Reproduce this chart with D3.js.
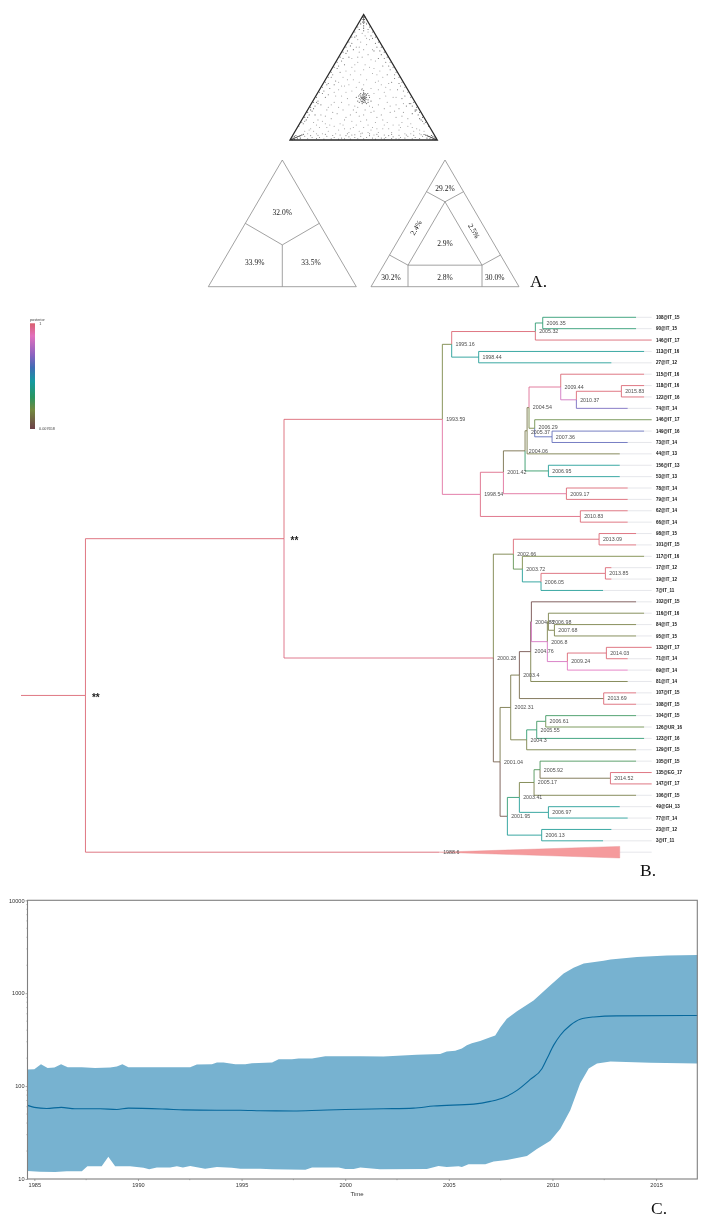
<!DOCTYPE html>
<html>
<head>
<meta charset="utf-8">
<title>Likelihood mapping, MCC tree and skyline</title>
<script src="https://cdn.jsdelivr.net/npm/d3@7"></script>
<style>
  body { margin: 0; background: #fff; }
  svg { display: block; filter: blur(0.35px); }
  text { font-family: "Liberation Sans", Arial, sans-serif; }
  .serif { font-family: "Liberation Serif", "Times New Roman", serif; }
</style>
</head>
<body>
<svg id="chart" width="709" height="1223" viewBox="0 0 709 1223"></svg>
<script>
// A. likelihood map, u = along the base, v = up from the base (both 0-100)
const mapCentre = [[48,32],[49,33],[50,34],[51,33],[50,32],[49,35],[51,35],[52,34],[48,35],[50,36],[47,33],[53,32],[49,31],[51,31],[50,30],[52,36],[48,37],[50,38],[51,37],[46,31],[54,34],[47,30],[53,30],[49.5,33.5],[50.5,34.5],[50.2,32.6],[49,34],[51,34],[50,35],[48.6,33.4],[51.6,32.4],[49,29],[52,29],[45,34],[55,31],
  [49.6,32.2],[50.4,33.2],[49.2,36],[50.8,36.4],[48.2,33.8],[51.8,35.6],[50,37],[49.4,30.4],[51,29.8],[47.4,36],[52.8,37],[46.6,35],[53.6,35.4],[50.6,31.4],[48.4,30.6],[50,39.5],[48.8,40]];
const mapInner = [[50,90],[49,85],[51,83],[48,78],[52,76],[50,72],[47,70],[53,68],[49,66],[46,62],[51,60],[54,58],[50,56],[48,52],[44,55],[56,53],[52,48],[47,46],[43,48],[58,46],[50,44],[45,42],[55,41],[40,44],[60,40],[49,41],
  [60,28],[64,25],[68,22],[72,18],[76,14],[80,11],[84,7],[88,5],[62,20],[70,12],[74,8],[66,14],[58,14],[63,9],[69,6],[78,5],[55,22],[59,18],[82,13],[86,9],
  [40,28],[36,24],[32,21],[28,17],[24,13],[20,10],[16,7],[12,5],[38,18],[30,11],[26,7],[34,13],[42,15],[37,9],[31,5],[22,5],[45,22],[41,20],[18,12],[14,9],[43,10],[47,7],[53,6],[57,4],
  [44,27],[35,35],[30,30],[38,38],[65,35],[72,28],[62,44],[56,26],[50,20],[48,15],[53,12],[51,24],[33,40],[68,40],
  [46,80],[53,86],[48,92],[52,92],[47,88],[54,80],[45,74],[56,72],[42,65],[58,63],[44,60],[61,55],[38,55],[63,50],[36,50],[41,52],[59,52],[33,46],[67,45],[37,43],[64,38],[42,39],[57,37],[39,33],[61,33],[35,30],[66,30],[31,35],[70,34],[28,28],[74,25],[25,24],[77,22],[33,26],[68,27],[37,16],[63,16],[22,15],[80,17],[19,16],[83,10],[27,12],[74,12],[13,8],[88,8],[10,7],[91,7],[33,8],[67,9],[40,6],[60,6],[45,12],[56,10],[50,10],[52,16],[47,19],[43,24],[57,23],[46,26],[54,27],[16,14],[21,20],[77,29],[26,26],[72,34],[30,38],[35,43],[65,42],[39,48],[60,47],[42,58],[57,57],[46,66],[55,64],[47,74],[52,81],[29,22],[71,23],[24,19],[76,19],[36,12],[64,12],[41,9],[59,9],[48,5],[55,8],[25,10],[75,10],[18,5],[82,5],[8,4],[93,4]];
const mapBase = [[10,3],[15,2],[20,2],[25,3],[30,2],[35,1.5],[40,2.5],[44,2],[48,3],[52,2],[56,1.5],[60,3],[65,2],[70,2.5],[75,2],[80,3],[85,2],[90,3],[38,3.5],[42,4],[46,1],[54,3.5],[62,1.5],[67,3.5],[72,1],[78,1.5],[12,1],[18,1.2],[23,.8],[28,1],[33,.7],[37,1],[41,.8],[50,1],[58,.7],[64,.9],[69,1.1],[74,.7],[83,1],[88,1.2],
  [14,3.5],[19,3.8],[24,4.5],[29,3.6],[34,4],[39,5],[44,4.2],[49,5.5],[54,5],[59,4.5],[64,4],[69,4.5],[74,3.8],[79,4],[84,3.8],[89,4.2]];
const mapLeft = [[12,18],[16,25],[19,31],[22,37],[25,44],[28,50],[32,57],[35,63],[38,69],[41,75],[44,82],[17,20],[21,28],[24,34],[27,41],[31,47],[34,54],[37,60],[40,66],[43,72],[18,30],[26,36],[30,44],
  [6,11],[8,14],[10,18],[12,22],[14,26],[16,30],[18,34],[20,38],[22,42],[24,46],[26,50],[28,54],[30,58],[32,62],[34,66],[36,70],[38,74],[40,78],[42,82],[44,86],[46,90],
  [9,13],[11,16],[13,20],[15,23],[17,27],[19,29],[23,39],[26,45],[29,52],[33,59],[36,65],[39,71],[42,77],[45,83],[47,88],[48,93],[10,15],[14,24]];
const mapRight = [[88,17],[85,24],[82,29],[78,35],[75,43],[71,49],[68,56],[65,62],[62,68],[59,74],[56,81],[83,21],[79,27],[76,33],[73,40],[69,46],[66,52],[63,59],[60,65],[57,71],
  [94,11],[92,14],[90,18],[88,22],[86,26],[84,30],[82,34],[80,38],[78,42],[76,46],[74,50],[72,54],[70,58],[68,62],[66,66],[64,70],[62,74],[60,78],[58,82],[56,86],[54,90],
  [91,13],[89,16],[87,20],[85,23],[83,27],[81,29],[77,39],[74,45],[71,52],[67,59],[64,65],[61,71],[58,77],[55,83],[53,88],[52,93],[90,15],[86,24]];
const mapCorners = [[1,.6],[2,1],[3,1.5],[4,2],[5,2.5],[6,3],[7,3.5],[8,4],[9,4.5],[1.5,.2],[3,.5],[5,1],[7,1.5],[1,1.6],[2,2.4],[3,3],[4,3.6],[1.5,.8],[2.5,1.2],[3.5,1.8],[4.5,2.2],[5.5,2.8],[6.5,3.2],
  [50,99],[50,97],[50,95],[50,93],[50,91],[49.5,96],[50.5,96],[49.3,94],[50.7,94],[49,98],[51,98],[50,98],[50,96],[50,94],[49.6,98],[50.4,98],[50,89],[50,87],
  [99,.6],[98,1],[97,1.6],[96,2],[95,2.6],[94,3],[93,3.6],[92,4],[91,4.4],[98.5,.2],[97,.5],[95,1],[93,1.5],[99,1.6],[98,2.4],[97,3],[96,3.6],[98.5,.8],[97.5,1.2],[96.5,1.8],[95.5,2.2],[94.5,2.8],[93.5,3.2]];

// A. partitions of the map, same units
const threeSegments = [[[50,33],[25,50]], [[50,33],[75,50]], [[50,33],[50,0]]];
const threeLabels = [["32.0%",50,59,0], ["33.9%",31.4,19.5,0], ["33.5%",69.4,19.5,0]];
const sevenSegments = [[[50,67],[25,17]], [[25,17],[75,17]], [[75,17],[50,67]], [[50,67],[37.5,75]], [[50,67],[62.5,75]], [[25,17],[12.5,25]], [[75,17],[87.5,25]], [[25,17],[25,0]], [[75,17],[75,0]]];
const sevenLabels = [["29.2%",50,77.7,0], ["2.4%",30.4,46.6,-60], ["2.5%",69.6,44,60], ["2.9%",50,34.3,0], ["2.8%",50,7.4,0], ["30.2%",13.5,7.4,0], ["30.0%",83.6,7.4,0]];

// B. internal nodes: id, parent, time on the drawn axis, posterior, label
const treeNodes = [
  ["stem",null,1941.6,1,""], ["root","stem",1949.55,1,""], ["top","root",1974.04,1,""],
  ["a1","top",1993.57,1,"1993.59"], ["a2","a1",1994.72,.16,"1995.16"], ["a3","a2",2005.04,1,"2005.32"], ["a4","a3",2005.95,.33,"2006.35"], ["a5","a2",1998.05,.42,"1998.44"],
  ["b1","a1",1998.26,.93,"1998.54"], ["b2","b1",2001.10,.97,"2001.42"], ["b3","b2",2003.77,.1,"2004.06"], ["b4","b3",2004.02,.12,"2005.37"], ["b5","b4",2004.26,.12,"2004.54"],
  ["b6","b5",2008.17,.95,"2009.44"], ["b7","b6",2010.10,.84,"2010.37"], ["b8","b7",2015.65,1,"2015.83"], ["b9","b5",2004.96,.17,"2006.29"], ["b10","b9",2007.10,.62,"2007.36"],
  ["b11","b3",2006.65,.3,"2006.95"], ["b12","b2",2008.87,.94,"2009.17"], ["b13","b1",2010.59,.98,"2010.83"],
  ["c1","top",1999.86,.98,"2000.28"], ["c2","c1",2002.33,.15,"2002.66"], ["c3","c2",2012.90,1,"2013.09"], ["c4","c2",2003.44,.22,"2003.72"], ["c5","c4",2005.74,.42,"2006.05"], ["c6","c5",2013.68,1,"2013.85"],
  ["d1","c1",2000.69,.06,"2001.04"], ["d2","d1",2002.0,.12,"2002.31"], ["d3","d2",2003.07,.12,"2003.4"], ["d4","d3",2004.47,.03,"2004.76"], ["d5","d4",2004.55,.02,"2004.88"],
  ["d6","d5",2006.52,.85,"2006.8"], ["d7","d6",2006.65,.14,"2006.98"], ["d8","d7",2007.39,.14,"2007.68"], ["d9","d6",2008.99,.85,"2009.24"], ["d10","d9",2013.80,1,"2014.03"], ["d11","d3",2013.47,.09,"2013.69"],
  ["e1","d2",2003.97,.14,"2004.3"], ["e2","e1",2005.21,.32,"2005.55"], ["e3","e2",2006.32,.28,"2006.61"],
  ["f1","d1",2001.59,.04,"2001.95"], ["f2","f1",2003.07,.33,"2003.41"], ["f3","f2",2004.88,.15,"2005.17"], ["f4","f3",2005.62,.25,"2005.92"], ["f5","f4",2014.30,.1,"2014.52"], ["f6","f2",2006.65,.42,"2006.97"], ["f7","f1",2005.82,.42,"2006.13"]
];

// B. tips, top to bottom
const tipNames = ["108@IT_15","90@IT_15","146@IT_17","113@IT_16","27@IT_12","115@IT_16","118@IT_16","122@IT_16","74@IT_14","146@IT_17","149@IT_16","73@IT_14","44@IT_13","156@IT_13","53@IT_13","78@IT_14","79@IT_14","62@IT_14","66@IT_14","98@IT_15","101@IT_15","117@IT_16","17@IT_12","19@IT_12","7@IT_11","102@IT_15","116@IT_16","84@IT_15","95@IT_15","133@IT_17","71@IT_14","69@IT_14","81@IT_14","107@IT_15","108@IT_15","104@IT_15","126@UR_16","123@IT_16","129@IT_15","105@IT_15","135@EG_17","147@IT_17","106@IT_15","49@GH_13","77@IT_14","23@IT_12","3@IT_11"];
const tipParents = ["a4","a4","a3","a5","a5","b6","b8","b8","b7","b9","b10","b10","b4","b11","b11","b12","b12","b13","b13","c3","c3","c4","c6","c6","c5","d5","d7","d8","d8","d10","d10","d9","d4","d11","d11","e3","e3","e2","e1","f4","f5","f5","f3","f6","f6","f7","f7"];
const tipPosterior = [.33,.33,1,.42,.42,1,1,1,.66,.2,.63,.63,.13,.42,.42,1,1,1,1,1,1,.17,1,1,.42,.02,.15,.15,.15,1,1,.88,.14,1,1,.28,.2,.33,.15,.26,1,1,.14,.42,.42,.42,.42];
// where a tip of each sampling year ends on the drawn axis
const tipTimes = {11:2013.39, 12:2014.42, 13:2015.45, 14:2016.43, 15:2017.46, 16:2018.45, 17:2019.39};
const collapsedClade = ["clade","root",1993.2,1,"1988.6"];
const collapsedEnd = 2015.45;

const posteriorStops = [0,.18,.3,.45,.58,.7,.88,1];
const posteriorColors = ["#6e4048","#74893f","#2a9560","#159aa0","#3f6cb4","#8b62c0","#e271bd","#d9606e"];

// C. skyline
const upperYears = [1984.67,1985,1985.32,1985.64,1985.97,1986.29,1986.61,1987.29,1987.93,1988.66,1988.98,1989.25,1989.54,1992.52,1992.84,1993.57,1993.81,1994.13,1994.7,1995.18,1995.5,1996.47,1996.79,1997.43,1997.75,1998.4,1999.04,2000.73,2001.84,2003.45,2004.58,2004.9,2005.31,2005.63,2005.87,2006.11,2006.51,2007,2007.24,2007.48,2007.8,2008.29,2009.09,2009.9,2010.54,2011.02,2011.51,2012.47,2012.8,2014.08,2015.53,2017];
const upperValues = [151,152,172,157,159,172,160,160,157,159,163,172,160,160,171,172,180,180,172,172,176,180,195,195,198,198,210,210,208,217,222,236,240,254,276,290,305,336,350,427,530,638,835,1220,1630,1875,2090,2240,2300,2450,2540,2570];
const lowerYears = [1984.67,1985.27,1986,1986.56,1987.29,1987.56,1988.25,1988.57,1988.9,1989.62,1990.27,1990.54,1990.91,1991.55,1991.88,1992.17,1992.52,1993.24,1993.81,1994.53,1994.94,1995.9,1996.47,1998.08,1998.4,1999.69,2000.01,2000.41,2000.73,2001.68,2003.94,2004.5,2004.9,2005.47,2005.63,2005.95,2006.76,2007.16,2007.8,2008.77,2009.25,2009.9,2010.38,2010.86,2011.34,2011.75,2012.15,2012.8,2014.73,2017];
const lowerValues = [12.2,12,11.9,12.1,12.1,13.7,13.7,17.4,13.7,13.7,13.2,12.7,13.3,13.3,13.7,13.3,13.8,12.9,13.5,13.2,12.9,12.9,12.7,12.6,13.3,13.3,12.8,12.8,13.3,12.7,12.8,13.8,13.5,13.7,13.5,14.4,14.4,15.4,16,17.7,21,25.8,34.8,55,107,155,175,184,178,175];
const meanYears = [1984.67,1985,1985.6,1986.3,1986.96,1988.17,1988.98,1989.54,1991.39,1992.2,1993.8,1994.94,1995.9,1997.5,1998.8,2000,2001.84,2003.3,2004.26,2006.2,2007,2007.64,2008.29,2008.93,2009.5,2009.74,2010.06,2010.38,2010.86,2011.34,2012,2013.1,2017];
const meanValues = [62,59,57.5,59,57,57,56,58,56.5,55.5,55,55,54.3,54,55,56,57,58,61,64,68.5,75,90,118,155,198,276,353,452,525,555,570,575];
const yearTicks = [1985,1990,1995,2000,2005,2010,2015];
const yearMinorTicks = [1987.5,1992.5,1997.5,2002.5,2007.5,2012.5];
const popTicks = [10,100,1000,10000];

const svg = d3.select("#chart");

// ---- panel A ----
function ternary(left, right, top, bottom) {
  return {
    x: d3.scaleLinear().domain([0, 100]).range([left, right]),
    y: d3.scaleLinear().domain([0, 100]).range([bottom, top])
  };
}
const outline = [[0,0],[50,100],[100,0]];

const mapG = svg.append("g");
const mapT = ternary(290, 437.3, 14.5, 140);
mapG.append("path")
  .attr("d", d3.line().x(d => mapT.x(d[0])).y(d => mapT.y(d[1])).curve(d3.curveLinearClosed)(outline))
  .attr("fill", "none").attr("stroke", "#2a2a2a").attr("stroke-width", 1.3);
// sparse interior dots are paler than the ones piling up at the edges and corners
function mapDots(points, opacity) {
  mapG.append("g").selectAll("circle").data(points).join("circle")
    .attr("cx", d => mapT.x(d[0])).attr("cy", d => mapT.y(d[1]))
    .attr("r", 0.55).attr("fill", "#2a2a2a").attr("fill-opacity", opacity);
}
mapDots(mapInner, 0.45);
mapDots(mapBase, 0.6);
mapDots(mapLeft, 0.7);
mapDots(mapRight, 0.7);
mapDots(mapCentre, 0.8);
mapDots(mapCorners, 0.9);

function partition(left, right, segments, labels) {
  const g = svg.append("g");
  const t = ternary(left, right, 160, 286.7);
  const line = d3.line().x(d => t.x(d[0])).y(d => t.y(d[1]));
  g.append("path").attr("d", line.curve(d3.curveLinearClosed)(outline))
    .attr("fill", "none").attr("stroke", "#8a8a8a").attr("stroke-width", 0.8);
  line.curve(d3.curveLinear);
  g.selectAll("path.seg").data(segments).join("path").attr("class", "seg")
    .attr("d", line).attr("fill", "none").attr("stroke", "#8a8a8a").attr("stroke-width", 0.8);
  g.selectAll("text").data(labels).join("text").attr("class", "serif")
    .attr("transform", d => `translate(${t.x(d[1])},${t.y(d[2])}) rotate(${d[3]})`)
    .attr("text-anchor", "middle").attr("dy", "0.35em")
    .attr("font-size", 7.5).attr("fill", "#222")
    .text(d => d[0]);
}
partition(208.3, 356.3, threeSegments, threeLabels);
partition(371, 519, sevenSegments, sevenLabels);

// ---- panel B ----
const treeX = d3.scaleLinear().domain([1941.6, 2019.39]).range([21, 651.7]);
const tipY = d3.scaleLinear().domain([0, 47]).range([317.3, 852.2]);
const posteriorColor = d3.scaleLinear().domain(posteriorStops).range(posteriorColors);

const rows = [...treeNodes, collapsedClade].map(d => ({ id: d[0], parent: d[1], time: d[2], posterior: d[3], label: d[4] }));
tipNames.forEach((name, i) => rows.push({
  id: "tip" + i, parent: tipParents[i], time: tipTimes[+name.slice(-2)],
  posterior: tipPosterior[i], name: name, order: i
}));
rows.find(d => d.id === "clade").order = 47;

const tree = d3.stratify().id(d => d.id).parentId(d => d.parent)(rows);
tree.eachAfter(n => {
  if (!n.children) {
    n.order = n.data.order;
    n.py = tipY(n.order);
  } else {
    n.children.sort((a, b) => a.order - b.order);
    n.order = n.children[0].order;
    n.py = (n.children[0].py + n.children[n.children.length - 1].py) / 2;
  }
});

const treeG = svg.append("g");
const leaves = tree.leaves();

// faint run from each tip out to the label column
treeG.selectAll("line.run").data(leaves).join("line").attr("class", "run")
  .attr("x1", d => d.data.id === "clade" ? treeX(collapsedEnd) : treeX(d.data.time))
  .attr("x2", treeX(tipTimes[17]))
  .attr("y1", d => d.py).attr("y2", d => d.py)
  .attr("stroke", "#dfe1e6").attr("stroke-width", 0.8);

treeG.selectAll("path.branch").data(tree.descendants().filter(d => d.parent)).join("path")
  .attr("class", "branch")
  .attr("d", d => `M${treeX(d.parent.data.time)},${d.parent.py}V${d.py}H${treeX(d.data.time)}`)
  .attr("fill", "none")
  .attr("stroke", d => posteriorColor(d.data.posterior))
  .attr("stroke-opacity", 0.85)
  .attr("stroke-width", 1);

// collapsed clade
const cladeNode = leaves.find(d => d.data.id === "clade");
treeG.append("path")
  .attr("d", d3.line()([
    [treeX(cladeNode.data.time), cladeNode.py],
    [treeX(collapsedEnd), cladeNode.py - 5.8],
    [treeX(collapsedEnd), cladeNode.py + 5.8]
  ]) + "Z")
  .attr("fill", "#f59a9c").attr("stroke", "#e58a8e").attr("stroke-width", 0.4);

// the two labels that collide in the middle of the upper clade sit a little apart
const labelNudge = { b9: -1.3, b4: 1.3 };
treeG.selectAll("text.node").data(tree.descendants().filter(d => d.data.label)).join("text")
  .attr("class", "node")
  .attr("x", d => treeX(d.data.time) + 3.8)
  .attr("y", d => d.py + (labelNudge[d.id] || 0)).attr("dy", "0.35em")
  .attr("font-size", 5.3).attr("fill", "#4f4f4f")
  .text(d => d.data.label);

treeG.selectAll("text.tip").data(leaves.filter(d => d.data.name)).join("text")
  .attr("class", "tip")
  .attr("x", treeX(tipTimes[17]) + 4.3).attr("y", d => d.py).attr("dy", "0.35em")
  .attr("font-size", 4.5).attr("font-weight", "bold").attr("fill", "#111")
  .text(d => d.data.name);

// support stars
const starNodes = ["root", "top"];
treeG.selectAll("text.star").data(tree.descendants().filter(d => starNodes.includes(d.id))).join("text")
  .attr("class", "star")
  .attr("x", d => treeX(d.data.time) + 6.5).attr("y", d => d.py + 5.5)
  .attr("font-size", 10).attr("font-weight", "bold").attr("fill", "#222")
  .text("**");

// posterior legend
const legend = svg.append("g");
const legendY = d3.scaleLinear().domain([1, 0.007658]).range([323.3, 429]);
const grad = svg.append("defs").append("linearGradient").attr("id", "posterior")
  .attr("x1", 0).attr("y1", 1).attr("x2", 0).attr("y2", 0);
grad.selectAll("stop").data(posteriorStops).join("stop")
  .attr("offset", d => d)
  .attr("stop-color", d => posteriorColor(d));
legend.append("rect")
  .attr("x", 30).attr("width", 5)
  .attr("y", legendY(1)).attr("height", legendY(0.007658) - legendY(1))
  .attr("fill", "url(#posterior)");
legend.append("text").attr("x", 30).attr("y", 320.8).attr("font-size", 3.8).attr("fill", "#444").text("posterior");
legend.append("text").attr("x", 39.2).attr("y", legendY(1)).attr("dy", "0.35em").attr("font-size", 3.8).attr("fill", "#444").text("1");
legend.append("text").attr("x", 39).attr("y", legendY(0.007658)).attr("dy", "0.35em").attr("font-size", 3.8).attr("fill", "#444").text("0.007658");

// ---- panel C ----
const x = d3.scaleLinear().domain([1984.67, 2016.99]).range([27.5, 697.3]);
const y = d3.scaleLog().domain([10, 10000]).range([1179, 900.3]);
const skyG = svg.append("g");

const upper = upperYears.map((t, i) => [t, upperValues[i]]);
const lower = lowerYears.map((t, i) => [t, lowerValues[i]]);
const mean = meanYears.map((t, i) => [t, meanValues[i]]);
const bandLine = d3.line().x(d => x(d[0])).y(d => y(d[1]));
skyG.append("path")
  .attr("d", bandLine([...upper, ...lower.slice().reverse()]) + "Z")
  .attr("fill", "#77b2d0");
skyG.append("path")
  .attr("d", bandLine.curve(d3.curveMonotoneX)(mean))
  .attr("fill", "none").attr("stroke", "#07689c").attr("stroke-width", 1.1);

const axisColor = "#7f7f7f";
const xAxis = skyG.append("g").attr("transform", `translate(0,${y(10)})`)
  .call(d3.axisBottom(x).tickValues(yearTicks).tickFormat(d3.format("d")).tickSize(2).tickPadding(2.5));
const yAxis = skyG.append("g").attr("transform", `translate(${x.range()[0]},0)`)
  .call(d3.axisLeft(y).tickValues(popTicks).tickFormat(d3.format("d")).tickSize(2).tickPadding(1));
[xAxis, yAxis].forEach(a => {
  a.select(".domain").remove();
  a.selectAll("line").attr("stroke", axisColor).attr("stroke-width", 0.7);
  a.selectAll("text").attr("font-size", 5.6).attr("fill", "#333").attr("font-family", "Liberation Sans");
});

// minor ticks
skyG.append("g").selectAll("line").data(yearMinorTicks).join("line")
  .attr("x1", d => x(d)).attr("x2", d => x(d))
  .attr("y1", y(10)).attr("y2", y(10) + 1.2)
  .attr("stroke", axisColor).attr("stroke-width", 0.6);
const logMinor = y.ticks().filter(v => !popTicks.includes(v));
skyG.append("g").selectAll("line").data(logMinor).join("line")
  .attr("x1", x.range()[0]).attr("x2", x.range()[0] - 1.2)
  .attr("y1", d => y(d)).attr("y2", d => y(d))
  .attr("stroke", axisColor).attr("stroke-width", 0.5);

skyG.append("rect")
  .attr("x", x.range()[0]).attr("y", y.range()[1])
  .attr("width", x.range()[1] - x.range()[0]).attr("height", y.range()[0] - y.range()[1])
  .attr("fill", "none").attr("stroke", axisColor).attr("stroke-width", 1.1);

skyG.append("text").attr("x", 357).attr("y", 1194).attr("dy", "0.35em")
  .attr("text-anchor", "middle").attr("font-size", 6).attr("fill", "#333").text("Time");

// panel letters
const panelLetters = [["A.", 530, 286.7], ["B.", 640, 876], ["C.", 651, 1214]];
svg.append("g").selectAll("text").data(panelLetters).join("text").attr("class", "serif")
  .attr("x", d => d[1]).attr("y", d => d[2])
  .attr("font-size", 17.5).attr("fill", "#111")
  .text(d => d[0]);
</script>
</body>
</html>
